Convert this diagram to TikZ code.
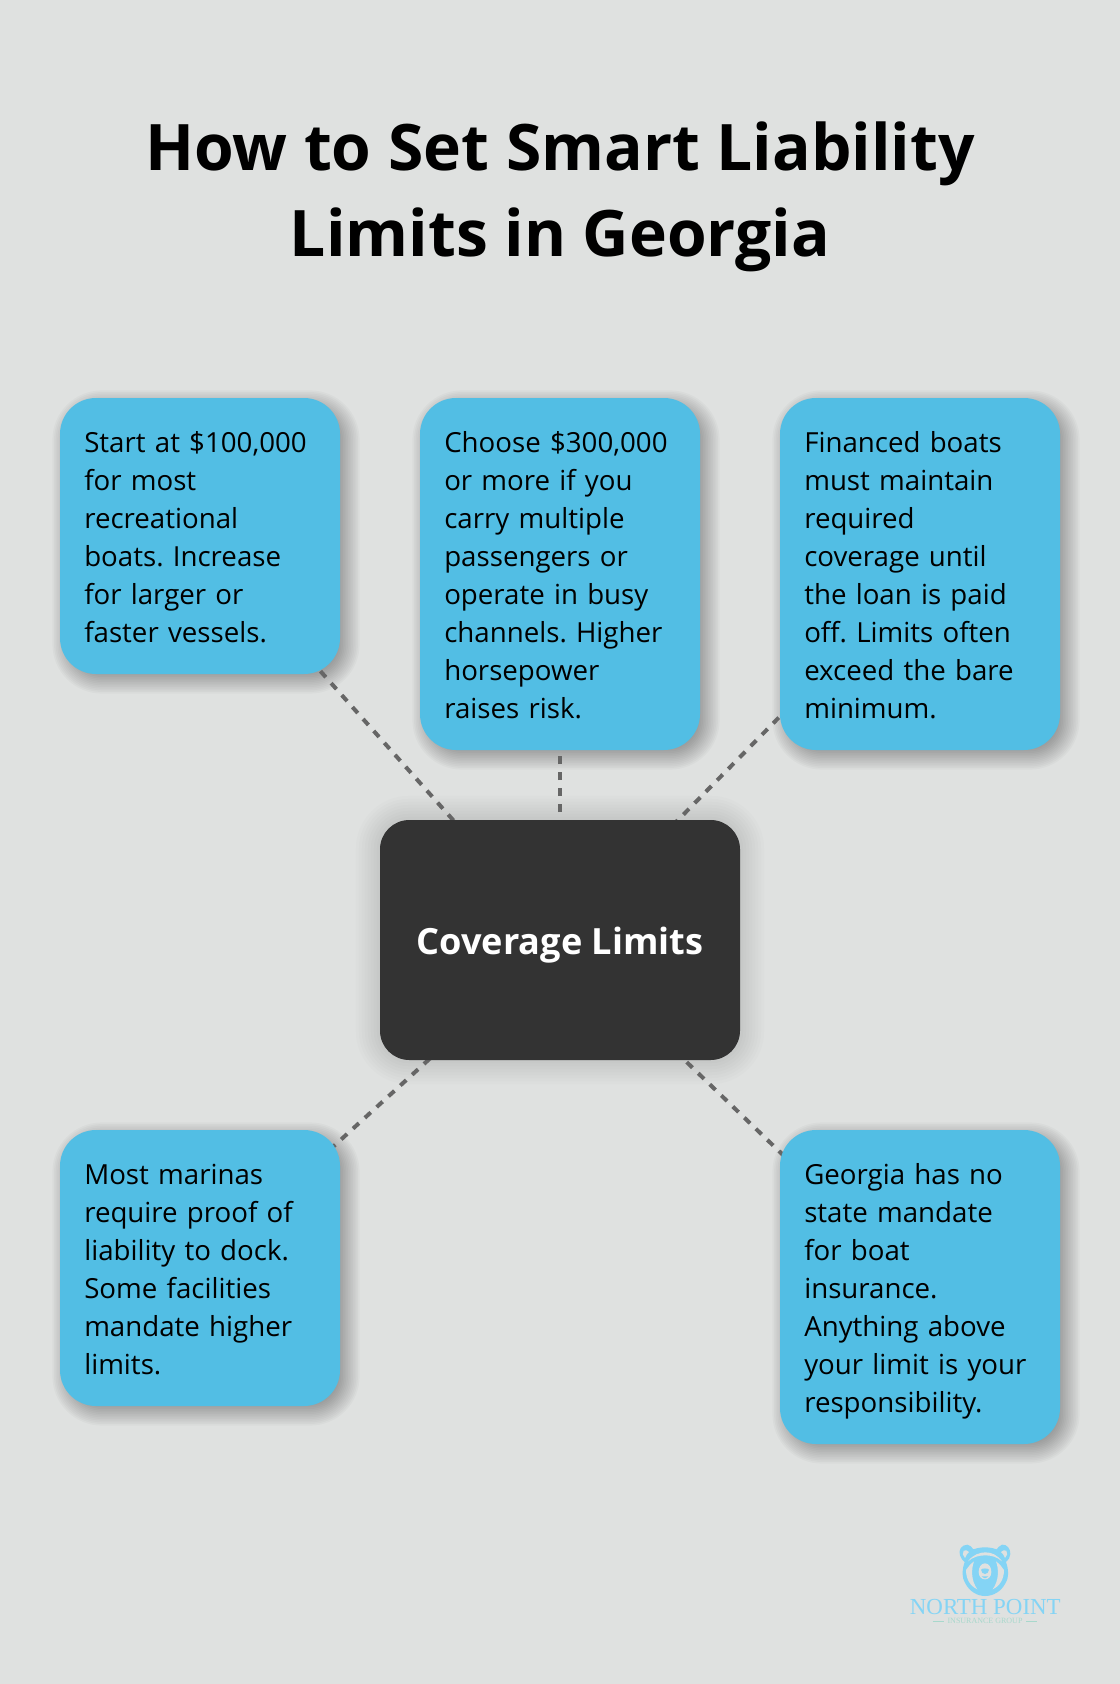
\documentclass[tikz,border=0pt]{standalone}
\usepackage{fontspec}
\setmainfont{Open Sans}
\newfontfamily\tipfont{Open Sans}[WordSpace=0.85]
\newfontfamily\logofont{Liberation Serif}
\usetikzlibrary{calc,backgrounds}

\definecolor{pagegrey}{HTML}{DFE1E0}
\definecolor{tipblue}{HTML}{52BEE4}
\definecolor{coredark}{HTML}{333333}
\definecolor{linkgrey}{HTML}{666666}
\definecolor{logoblue}{HTML}{84D4F5}
\definecolor{logogreen}{HTML}{A8D8CC}

\tikzset{
	tipbox/.style={rectangle, fill=tipblue, text=black, rounded corners=27pt, minimum width=210pt, inner xsep=18.2pt, inner ysep=0pt, align=left,
		font=\tipfont\fontsize{20.75}{28.5}\selectfont\frenchspacing, text width=173.6pt,
		execute at begin node=\rule{0pt}{22.9pt}, execute at end node=\rule[-5.65pt]{0pt}{5.65pt}},
	corebox/.style={rectangle, fill=coredark, text=white, rounded corners=22pt, minimum width=270pt, minimum height=180pt,
		font=\fontsize{27.1}{30}\selectfont\bfseries, text height=21.7pt, text depth=0pt},
	linkdash/.style={draw=linkgrey, line width=3pt, dash pattern=on 6pt off 6pt},
}

% stacked rounded rectangles: node, x shift, y shift, corner radius, opacity of one layer, reach
\newcommand{\softshadow}[6]{
	\foreach \k in {0,...,16} {
		\pgfmathsetmacro{\grow}{#6*(\k/8-1)}
		\fill[black, opacity=#5, rounded corners={(#4+\grow)*1pt}] ($(#1.south west)+(#2pt-\grow pt,#3pt-\grow pt)$) rectangle ($(#1.north east)+(#2pt+\grow pt,#3pt+\grow pt)$);
	}
}

\begin{document}
\begin{tikzpicture}[x=0.75pt,y=-0.75pt]
	% page
	\useasboundingbox (0,0) rectangle (1120,1684);
	\begin{scope}[on background layer]
		\fill[pagegrey] (0,0) rectangle (1120,1684);
	\end{scope}

	\node[align=center, font=\fontsize{48.1}{64.4}\selectfont\bfseries] (heading) at (560,196.5) {How to Set Smart Liability\\Limits in Georgia};

	\node[corebox] (core) at (560,940) {Coverage Limits};

	\node[tipbox, minimum height=207pt] (start) at (200,536) {Start at \$100,000\\for most\\recreational\\boats. Increase\\for larger or\\faster vessels.};
	\node[tipbox, minimum height=264pt] (choose) at (560,574) {Choose \$300,000\\or more if you\\carry multiple\\passengers or\\operate in busy\\channels. Higher\\horsepower\\raises risk.};
	\node[tipbox, minimum height=264pt] (financed) at (920,574) {Financed boats\\must maintain\\required\\coverage until\\the loan is paid\\off. Limits often\\exceed the bare\\minimum.};
	\node[tipbox, minimum height=207pt] (marinas) at (200,1268) {Most marinas\\require proof of\\liability to dock.\\Some facilities\\mandate higher\\limits.};
	\node[tipbox, minimum height=235.5pt] (mandate) at (920,1287) {Georgia has no\\state mandate\\for boat\\insurance.\\Anything above\\your limit is your\\responsibility.};

	\begin{scope}[on background layer]
		\softshadow{core}{0}{0}{22}{0.012}{18}
		\softshadow{start}{4.5}{-4.5}{27}{0.025}{10}
		\softshadow{choose}{4.5}{-4.5}{27}{0.025}{10}
		\softshadow{financed}{4.5}{-4.5}{27}{0.025}{10}
		\softshadow{marinas}{4.5}{-4.5}{27}{0.025}{10}
		\softshadow{mandate}{4.5}{-4.5}{27}{0.025}{10}
		\draw[linkdash] (core.center) -- (start.center);
		\draw[linkdash] (core.center) -- (choose.center);
		\draw[linkdash] (core.center) -- (financed.center);
		\draw[linkdash] (core.center) -- (marinas.center);
		\draw[linkdash] (core.center) -- (mandate.center);
	\end{scope}

	% logo
	\begin{scope}[shift={(880,1520)},x=0.25pt,y=-0.25pt]
		\fill[logoblue] (262,74) .. controls (245,74) and (234,90) .. (240,106) .. controls (243,116) and (248,122) .. (254,126)
			.. controls (246,150) and (244,170) .. (256,190) .. controls (268,214) and (292,228) .. (315,228)
			.. controls (340,228) and (364,214) .. (376,190) .. controls (388,170) and (386,150) .. (378,126)
			.. controls (386,120) and (390,112) .. (391,102) .. controls (392,86) and (380,72) .. (366,74)
			.. controls (358,76) and (354,84) .. (350,88) .. controls (328,80) and (302,80) .. (280,88)
			.. controls (276,82) and (270,75) .. (262,74) -- cycle;
		\fill[pagegrey] (251,92) .. controls (246,98) and (248,108) .. (255,114) .. controls (258,106) and (262,100) .. (267,96) .. controls (263,91) and (256,89) .. (251,92) -- cycle;
		\fill[pagegrey] (379,92) .. controls (384,98) and (382,108) .. (375,114) .. controls (372,106) and (368,100) .. (363,96) .. controls (367,91) and (374,89) .. (379,92) -- cycle;
		\fill[pagegrey] (264,124) .. controls (278,104) and (300,97) .. (316,97) .. controls (334,97) and (352,104) .. (366,124)
			.. controls (350,110) and (334,106) .. (316,106) .. controls (298,106) and (280,110) .. (264,124) -- cycle;
		\fill[pagegrey] (258,150) .. controls (264,140) and (272,132) .. (282,124) .. controls (274,146) and (272,180) .. (292,208) .. controls (270,198) and (258,176) .. (258,150) -- cycle;
		\fill[pagegrey] (372,150) .. controls (366,140) and (358,132) .. (348,124) .. controls (356,146) and (358,180) .. (338,208) .. controls (360,198) and (372,176) .. (372,150) -- cycle;
		\fill[pagegrey] (315,130) .. controls (303,130) and (296,142) .. (296,156) .. controls (296,170) and (305,178) .. (315,178) .. controls (325,178) and (334,170) .. (334,156) .. controls (334,142) and (327,130) .. (315,130) -- cycle;
		\fill[logoblue] (303,149) .. controls (307,144) and (323,144) .. (327,149) .. controls (327,157) and (320,162) .. (315,162) .. controls (310,162) and (303,157) .. (303,149) -- cycle;
		\fill[logoblue] (305,169) -- (325,169) -- (318,174) -- (312,174) -- cycle;
		\node[text=logoblue, font=\fontsize{17.2}{18}\logofont, inner sep=0pt, anchor=center] (brand) at (316,260) {NORTH POINT};
		\node[text=logogreen, font=\fontsize{6}{7}\logofont, inner sep=0pt, anchor=center] (brandsub) at (315,303) {INSURANCE GROUP};
		\draw[logogreen, line width=0.6pt] (158,303) -- (192,303) (438,303) -- (472,303);
	\end{scope}
\end{tikzpicture}
\end{document}
